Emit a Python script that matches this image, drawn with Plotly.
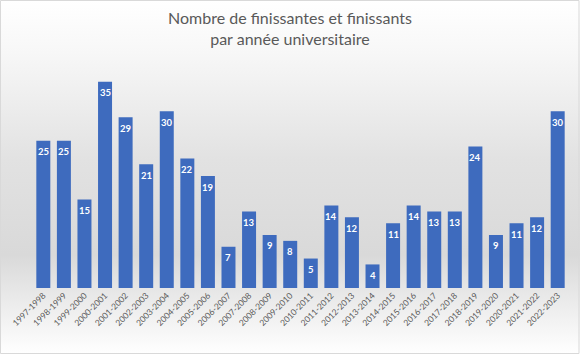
import plotly.graph_objects as go
import base64

categories = ["1997-1998","1998-1999","1999-2000","2000-2001","2001-2002","2002-2003",
              "2003-2004","2004-2005","2005-2006","2006-2007","2007-2008","2008-2009",
              "2009-2010","2010-2011","2011-2012","2012-2013","2013-2014","2014-2015",
              "2015-2016","2016-2017","2017-2018","2018-2019","2019-2020","2020-2021",
              "2021-2022","2022-2023"]
values = [25,25,15,35,29,21,30,22,19,7,13,9,8,5,14,12,4,11,14,13,13,24,9,11,12,30]
title_lines = ["Nombre de finissantes et finissants", "par année universitaire"]

W, H = 580, 354
L, R, T, B = 32, 11, 70, 66
pw, ph = W - L - R, H - T - B

svg = ('<svg xmlns="http://www.w3.org/2000/svg" width="100" height="100" preserveAspectRatio="none">'
       '<defs><linearGradient id="g" x1="0" y1="0" x2="0" y2="1">'
       '<stop offset="0" stop-color="#ffffff"/>'
       '<stop offset="0.15" stop-color="#f7f7f7"/>'
       '<stop offset="0.45" stop-color="#e2e2e2"/>'
       '<stop offset="0.72" stop-color="#d9d9d9"/>'
       '<stop offset="0.86" stop-color="#ececec"/>'
       '<stop offset="1" stop-color="#ffffff"/>'
       '</linearGradient></defs><rect width="100" height="100" fill="url(#g)"/></svg>')
src = "data:image/svg+xml;base64," + base64.b64encode(svg.encode()).decode()

fig = go.Figure()
fig.add_trace(go.Bar(x=categories, y=values, marker=dict(color="#3E6BBE", line=dict(width=0)),
                     hoverinfo="skip"))

annotations = [dict(x=c, y=v, xref="x", yref="y", text=f"<b>{v}</b>", showarrow=False,
                    yanchor="middle", yshift=-11,
                    font=dict(family="Lato", size=9.5, color="white"))
               for c, v in zip(categories, values)]
annotations.append(dict(text="<br>".join(title_lines), xref="paper", yref="paper",
                        x=0.5 + (R - L) / 2 / pw, y=1 + (T - 28) / ph, xanchor="center",
                        yanchor="middle", showarrow=False,
                        font=dict(family="Lato", size=16, color="#595959")))

fig.update_layout(
    width=W, height=H,
    margin=dict(l=L, r=R, t=T, b=B),
    paper_bgcolor="white", plot_bgcolor="rgba(0,0,0,0)",
    showlegend=False, bargap=0.32,
    annotations=annotations,
    xaxis=dict(type="category", tickangle=-45, showgrid=False, zeroline=False,
               showline=False, ticks="", tickfont=dict(family="Lato", size=8.5, color="#595959"),
               range=[-0.55, 25.55]),
    yaxis=dict(range=[0, 37], visible=False),
    images=[dict(source=src, xref="paper", yref="paper", x=-L/pw, y=1 + T/ph,
                 sizex=W/pw, sizey=H/ph, sizing="stretch", layer="below",
                 xanchor="left", yanchor="top")],
    shapes=[dict(type="rect", xref="paper", yref="paper", x0=-L/pw + 0.5/pw, x1=1 + (R - 1)/pw,
                 y0=-B/ph + 0.5/ph, y1=1 + (T - 0.5)/ph, line=dict(color="#d9d9d9", width=1))],
)

fig.write_html("out.html")
